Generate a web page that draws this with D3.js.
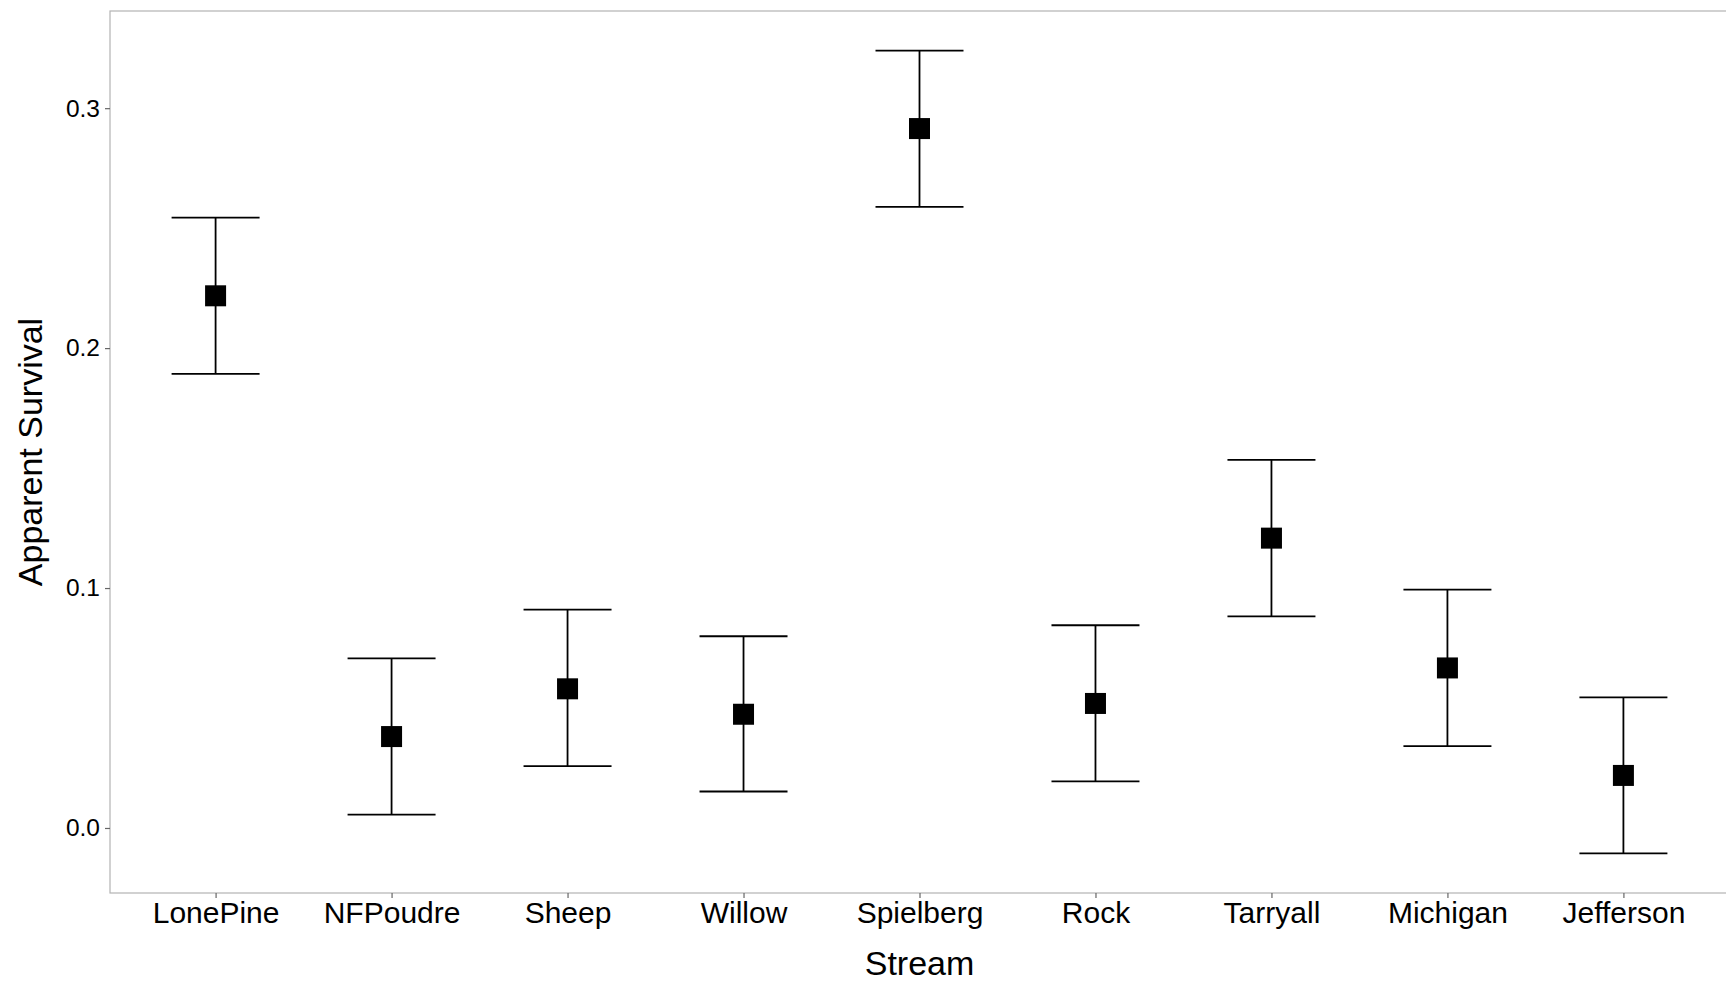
<!DOCTYPE html>
<html>
<head>
<meta charset="utf-8">
<script src="https://cdn.jsdelivr.net/npm/d3@7"></script>
<style>
  body { margin: 0; background: #fff; }
  svg { display: block; font-family: "Liberation Sans", Arial, sans-serif; }
</style>
</head>
<body>
<div id="main"></div>
<script>
const streams = ['LonePine', 'NFPoudre', 'Sheep', 'Willow', 'Spielberg', 'Rock', 'Tarryall', 'Michigan', 'Jefferson'];
const survival = [0.2218, 0.0381, 0.0580, 0.0474, 0.2915, 0.0519, 0.1208, 0.0667, 0.0219];
const lower = [0.1893, 0.0056, 0.0258, 0.0152, 0.2589, 0.0194, 0.0882, 0.0341, -0.0106];
const upper = [0.2544, 0.0707, 0.0910, 0.0799, 0.3240, 0.0845, 0.1534, 0.0993, 0.0544];
const yTicks = [0.0, 0.1, 0.2, 0.3];

const
  width = 1726,
  height = 982,
  panelLeft = 110,
  panelRight = 1729,
  panelTop = 11,
  panelBottom = 893;

const x = d3.scalePoint().domain(streams).range([panelLeft, panelRight]).padding(0.6);
const y = d3.scaleLinear().domain([-0.0271, 0.3405]).range([panelBottom, panelTop]);

const svg = d3.select('div#main').append('svg').attr('width', width).attr('height', height);

// panel border
svg.append('rect')
  .attr('x', panelLeft).attr('y', panelTop)
  .attr('width', panelRight - panelLeft).attr('height', panelBottom - panelTop)
  .attr('fill', 'none').attr('stroke', '#b3b3b3').attr('stroke-width', 1.2);

const yAxis = d3.axisLeft(y).tickValues(yTicks).tickFormat(d3.format('.1f')).tickSize(5).tickPadding(5);
const xAxis = d3.axisBottom(x).tickSize(5).tickPadding(4);

const gy = svg.append('g').attr('transform', `translate(${panelLeft},0)`).call(yAxis);
gy.select('.domain').remove();
gy.selectAll('.tick line').attr('stroke', '#666').attr('stroke-width', 1.2);
gy.selectAll('.tick text').attr('font-size', 24.5).attr('fill', '#000').attr('font-family', null);

const gx = svg.append('g').attr('transform', `translate(0,${panelBottom})`).call(xAxis);
gx.select('.domain').remove();
gx.selectAll('.tick line').attr('stroke', '#666').attr('stroke-width', 1.2);
gx.selectAll('.tick text').attr('font-size', 30).attr('fill', '#000').attr('font-family', null);

// error bars
const cap = x.step() * 0.25;
const bars = svg.append('g').selectAll('g').data(streams).join('g');
bars.append('line')
  .attr('x1', d => x(d)).attr('x2', d => x(d))
  .attr('y1', (d, i) => y(lower[i])).attr('y2', (d, i) => y(upper[i]))
  .attr('stroke', '#000').attr('stroke-width', 1.8);
bars.append('line')
  .attr('x1', d => x(d) - cap).attr('x2', d => x(d) + cap)
  .attr('y1', (d, i) => y(upper[i])).attr('y2', (d, i) => y(upper[i]))
  .attr('stroke', '#000').attr('stroke-width', 1.8);
bars.append('line')
  .attr('x1', d => x(d) - cap).attr('x2', d => x(d) + cap)
  .attr('y1', (d, i) => y(lower[i])).attr('y2', (d, i) => y(lower[i]))
  .attr('stroke', '#000').attr('stroke-width', 1.8);

// points
const sq = 21;
bars.append('rect')
  .attr('x', d => x(d) - sq / 2)
  .attr('y', (d, i) => y(survival[i]) - sq / 2)
  .attr('width', sq).attr('height', sq)
  .attr('fill', '#000');

// axis titles
svg.append('text')
  .attr('x', (panelLeft + panelRight) / 2).attr('y', 975)
  .attr('text-anchor', 'middle').attr('font-size', 34)
  .text('Stream');

svg.append('text')
  .attr('transform', `translate(42,${(panelTop + panelBottom) / 2}) rotate(-90)`)
  .attr('text-anchor', 'middle').attr('font-size', 34)
  .text('Apparent Survival');
</script>
</body>
</html>
